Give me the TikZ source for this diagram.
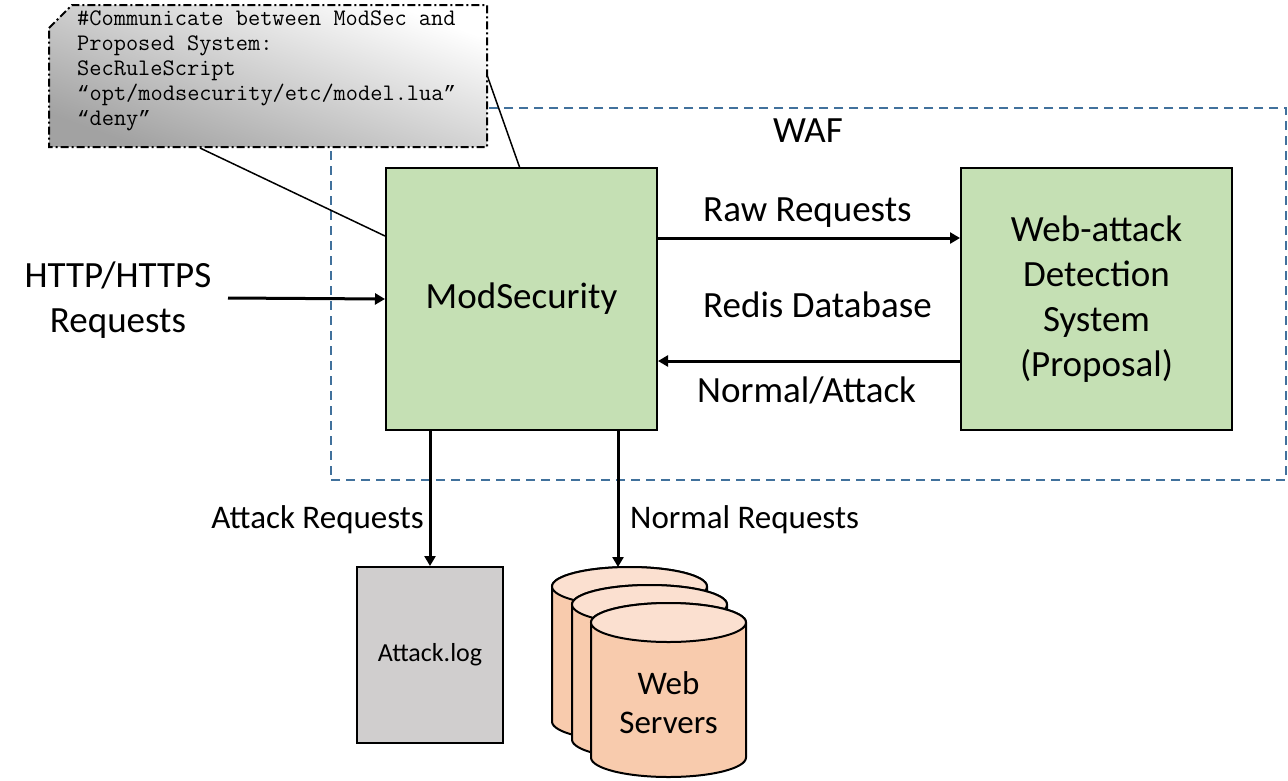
\documentclass[tikz,border=0pt]{standalone}
\usepackage{fontspec}
\setmainfont{Carlito}
\newfontfamily\qfont{Liberation Mono}
\usetikzlibrary{arrows.meta}
\definecolor{boxgreen}{HTML}{C5E0B4}
\definecolor{loggray}{HTML}{D0CECE}
\definecolor{cylbody}{HTML}{F8CBAD}
\definecolor{cyltop}{HTML}{FBE0D0}
\definecolor{wafblue}{HTML}{41719C}
\definecolor{notedark}{HTML}{A2A2A2}
\newcommand\oq{{\qfont\fontsize{20.7}{25}\selectfont “}}
\newcommand\cq{{\qfont\fontsize{20.7}{25}\selectfont ”}}
\newcommand\webcyl[2]{%
  \filldraw[cylstyle] ({#1},{-#2-19.5}) -- ({#1},{-#2-174+19.5})
    arc[start angle=180,end angle=360,x radius=77.5pt,y radius=19.5pt]
    -- ({#1+155},{-#2-19.5})
    arc[start angle=0,end angle=180,x radius=77.5pt,y radius=19.5pt] -- cycle;
  \filldraw[cylstyle,fill=cyltop] ({#1+77.5},{-#2-19.5}) ellipse[x radius=77.5pt,y radius=19.5pt];
}
\begin{document}
\begin{tikzpicture}[x=1pt,y=1pt,
  greenbox/.style={draw=black, line width=2pt, fill=boxgreen, align=center,
    font=\fontsize{37}{45}\selectfont},
  arr/.style={line width=3pt, -{Triangle[length=10pt,width=11pt]}},
  lbl/.style={font=\fontsize{37}{45}\selectfont, inner sep=0pt},
  smalllbl/.style={font=\fontsize{33}{39}\selectfont, inner sep=0pt},
  wafstyle/.style={draw=wafblue, line width=2pt, dash pattern=on 9pt off 6pt},
  calloutline/.style={line width=1.5pt},
  cylstyle/.style={draw=black, line width=2pt, fill=cylbody},
]
\useasboundingbox (0,0) rectangle (1288,-780);

% WAF boundary
\node[wafstyle, minimum width=955pt, minimum height=372pt, inner sep=0pt] (waf) at (808.5,-294) {};
\node[lbl, anchor=base] (waflbl) at (808,-142) {WAF};

% callout connector lines
\coordinate (nA) at (200,-148);
\coordinate (nB) at (487,-75);

% main boxes
\node[greenbox, minimum width=271pt, minimum height=262pt] (ms) at (521.5,-299) {ModSecurity};
\node[greenbox, minimum width=271pt, minimum height=262pt] (det) at (1096.5,-299)
  {Web-attack\\Detection\\System\\(Proposal)};

\draw[calloutline] (nA) -- ([yshift=63pt]ms.west);
\draw[calloutline] (nB) -- ([xshift=-2pt]ms.north);

% callout
\path[top color=white, bottom color=notedark, shading angle=-20]
  (49,-28) -- (72,-5) -- (487,-5) -- (487,-147) -- (49,-147) -- cycle;
\draw[line width=2pt, dash pattern=on 8pt off 3pt on 2pt off 3pt]
  (49,-28) -- (72,-5) -- (487,-5) -- (487,-147) -- (49,-147) -- cycle;
\node[anchor=north west, align=left, inner sep=0pt,
  font=\ttfamily\fontsize{23.7}{25}\selectfont] (notetext) at (77,-11)
  {\#Communicate between ModSec and\\Proposed System:\\SecRuleScript\\\oq opt/modsecurity/etc/model.lua\cq\\\oq deny\cq};

% input
\node[lbl, align=center] (http) at (118,-300) {HTTP/HTTPS\\Requests};
\coordinate (httpstart) at (228,-298);
\draw[arr] (httpstart) -- (ms.west);

% ModSec <-> detection
\draw[arr] ([yshift=61pt]ms.east) -- ([yshift=61pt]det.west);
\draw[arr] ([yshift=-62pt]det.west) -- ([yshift=-62pt]ms.east);
\node[lbl, anchor=base west] (raw) at (703,-221) {Raw Requests};
\node[lbl, anchor=base west] (redis) at (703,-317) {Redis Database};
\node[lbl, anchor=base west] (na) at (697,-402) {Normal/Attack};

% attack log
\node[draw=black, line width=2pt, fill=loggray, minimum width=146pt, minimum height=176pt,
  font=\fontsize{26}{30}\selectfont] (log) at (430,-655) {Attack.log};

% web servers
\webcyl{552}{567}
\webcyl{572}{585}
\webcyl{591}{603}
\coordinate (cyltopc) at (618,-567);
\node[smalllbl, align=center] (ws) at (668.5,-703) {Web\\Servers};

% outputs
\draw[arr] ([xshift=-91.5pt]ms.south) -- (log.north);
\draw[arr] ([xshift=96.5pt]ms.south) -- (cyltopc);
\node[smalllbl, anchor=base east] (atk) at (424,-528) {Attack Requests};
\node[smalllbl, anchor=base west] (nrm) at (630,-528) {Normal Requests};
\end{tikzpicture}
\end{document}
